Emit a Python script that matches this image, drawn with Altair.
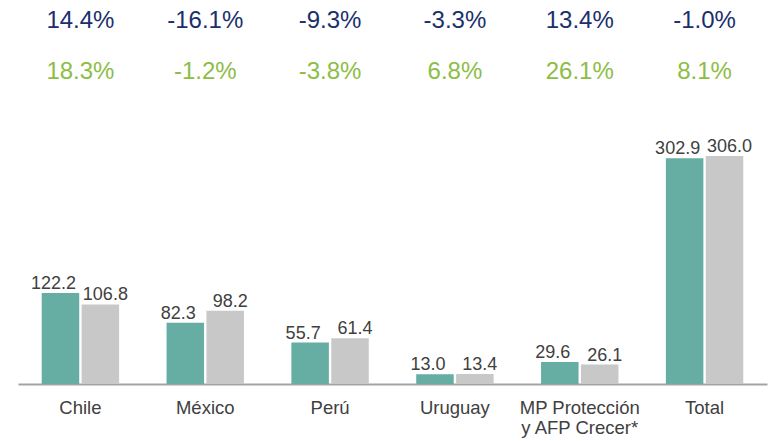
import altair as alt
import pandas as pd

categories = ["Chile", "México", "Perú", "Uruguay", "MP Protección|y AFP Crecer*", "Total"]
series = ["Periodo anterior", "Periodo actual"]
values_prev = [122.2, 82.3, 55.7, 13.0, 29.6, 302.9]
values_curr = [106.8, 98.2, 61.4, 13.4, 26.1, 306.0]
pct_blue = ["14.4%", "-16.1%", "-9.3%", "-3.3%", "13.4%", "-1.0%"]
pct_green = ["18.3%", "-1.2%", "-3.8%", "6.8%", "26.1%", "8.1%"]

rows = []
for c, a, b in zip(categories, values_prev, values_curr):
    rows.append({"cat": c, "serie": series[0], "v": a, "lbl": f"{a:.1f}"})
    rows.append({"cat": c, "serie": series[1], "v": b, "lbl": f"{b:.1f}"})
df = pd.DataFrame(rows)
pct_df = pd.DataFrame({"cat": categories, "blue": pct_blue, "green": pct_green})

FONT = "Liberation Sans"

x_enc = alt.X(
    "cat:N",
    sort=categories,
    scale=alt.Scale(paddingInner=0.38, paddingOuter=0.19),
    axis=alt.Axis(
        title=None,
        labelExpr="split(datum.label, '|')",
        labelFont=FONT,
        labelFontSize=18.5,
        labelColor="#404040",
        labelPadding=14,
        labelLineHeight=20,
        labelAngle=0,
        ticks=False,
        domainColor="#a0a4a8",
        domainWidth=2,
        labelLimit=200,
    ),
)
xo = alt.XOffset("serie:N", sort=series, scale=alt.Scale(paddingInner=0.06))
y_enc = alt.Y("v:Q", scale=alt.Scale(domain=[0, 494]), axis=None)
color_enc = alt.Color(
    "serie:N",
    sort=series,
    scale=alt.Scale(domain=series, range=["#66ada3", "#c8c8c8"]),
    legend=None,
)

bars = alt.Chart(df).mark_bar().encode(x=x_enc, xOffset=xo, y=y_enc, color=color_enc)


def value_labels(serie, dx):
    return (
        alt.Chart(df)
        .transform_filter(alt.datum.serie == serie)
        .mark_text(font=FONT, fontSize=18, color="#404040", baseline="alphabetic", dy=-4, dx=dx)
        .encode(x=alt.X("cat:N", sort=categories), xOffset=xo, y=y_enc, text="lbl:N")
    )


labels_prev = value_labels(series[0], -7)
labels_curr = value_labels(series[1], 5)

blue = alt.Chart(pct_df).mark_text(
    font=FONT, fontSize=24, color="#1a2f6b", baseline="middle"
).encode(x=alt.X("cat:N", sort=categories), y=alt.value(5), text="blue:N")

green = alt.Chart(pct_df).mark_text(
    font=FONT, fontSize=24, color="#8cbd45", baseline="middle"
).encode(x=alt.X("cat:N", sort=categories), y=alt.value(56), text="green:N")

chart = (
    alt.layer(bars, labels_prev, labels_curr, blue, green)
    .properties(
        width=749,
        height=368,
        background="white",
        autosize=alt.AutoSizeParams(type="none"),
        padding={"left": 10, "top": 8, "right": 3, "bottom": 57},
    )
    .configure_view(stroke=None)
)

chart.save("out.html", embed_options={"renderer": "svg", "actions": False})
